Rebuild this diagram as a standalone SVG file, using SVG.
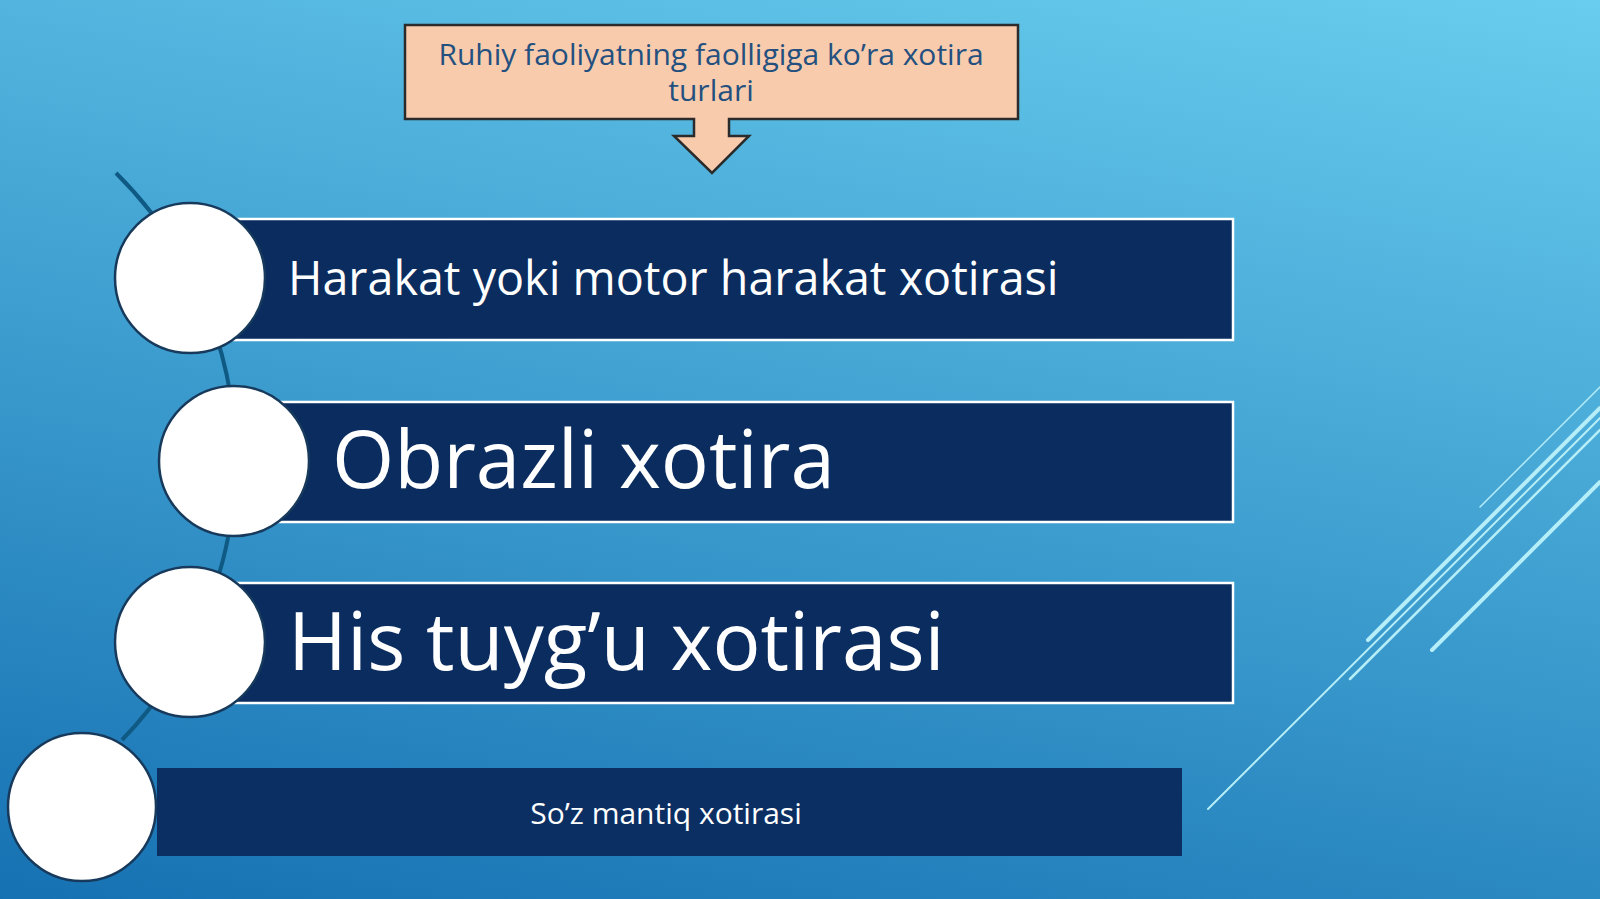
<svg xmlns="http://www.w3.org/2000/svg" width="1600" height="899" viewBox="0 0 1600 899">
  <defs>
    <linearGradient id="bg" gradientUnits="userSpaceOnUse" x1="917" y1="-137" x2="683" y2="1037">
      <stop offset="0" stop-color="#68cdee"/>
      <stop offset="1" stop-color="#1671b2"/>
    </linearGradient>
  </defs>
  <style>
    .bar { fill: #0a2c5e; stroke: #ffffff; stroke-width: 2.5; }
    .bar4 { fill: #0b2f63; }
    .dot { fill: #ffffff; stroke: #173a5c; stroke-width: 2.5; }
    .lbl { font-family: "Open Sans", "Noto Sans", sans-serif; fill: #ffffff; }
    .hdr { font-family: "Open Sans", "Noto Sans", sans-serif; fill: #24507f; font-size: 30px; text-anchor: middle; }
    .deco { stroke: #b5eef8; fill: none; stroke-linecap: round; }
  </style>
  <rect x="0" y="0" width="1600" height="899" fill="url(#bg)"/>
  <g id="decor">
    <line class="deco" x1="1480" y1="507" x2="1600" y2="387" stroke-width="1.5"/>
    <line class="deco" x1="1368" y1="640" x2="1600" y2="408" stroke-width="4"/>
    <line class="deco" x1="1208" y1="809" x2="1600" y2="418" stroke-width="2"/>
    <line class="deco" x1="1350" y1="679" x2="1600" y2="430" stroke-width="2.5"/>
    <line class="deco" x1="1432" y1="650" x2="1600" y2="482" stroke-width="4"/>
  </g>
  <g id="connectors">
    <path d="M116,173 A403,403 0 0 1 122,740" fill="none" stroke="#0f5a84" stroke-width="4"/>
  </g>
  <g id="header">
    <path d="M405,25 H1018 V119 H729 V136 H749 L712,173 L674,136 H694 V119 H405 Z" fill="#f8cbad" stroke="#2b2b2b" stroke-width="2.5" stroke-linejoin="miter"/>
    <text class="hdr"><tspan x="711" y="65">Ruhiy faoliyatning faolligiga ko’ra xotira</tspan><tspan x="711" y="101">turlari</tspan></text>
  </g>
  <g id="item1">
    <rect class="bar" x="200" y="219" width="1033" height="121"/>
    <circle class="dot" cx="190" cy="278" r="75"/>
    <text class="lbl" x="288" y="295" font-size="46.7">Harakat yoki motor harakat xotirasi</text>
  </g>
  <g id="item2">
    <rect class="bar" x="250" y="402" width="983" height="120"/>
    <circle class="dot" cx="234" cy="461" r="75"/>
    <text class="lbl" x="332" y="488" font-size="80">Obrazli xotira</text>
  </g>
  <g id="item3">
    <rect class="bar" x="200" y="583" width="1033" height="120"/>
    <circle class="dot" cx="190" cy="642" r="75"/>
    <text class="lbl" x="288" y="670" font-size="80">His tuyg’u xotirasi</text>
  </g>
  <g id="item4">
    <rect class="bar4" x="157" y="768" width="1025" height="88"/>
    <circle class="dot" cx="82" cy="807" r="74"/>
    <text class="lbl" x="666" y="824" font-size="30" text-anchor="middle">So’z mantiq xotirasi</text>
  </g>
</svg>
